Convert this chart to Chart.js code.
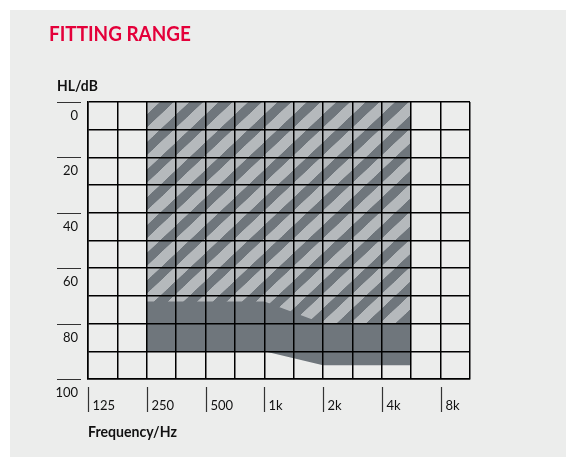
<!DOCTYPE html>
<html>
<head>
<meta charset="utf-8">
<script src="https://cdn.jsdelivr.net/npm/chart.js@4"></script>
<style>
  html, body { margin: 0; padding: 0; background: #fff; }
  #wrap { width: 566px; height: 457px; position: relative; }
</style>
</head>
<body>
<div id="wrap"><canvas id="rangeChart" width="566" height="457"></canvas></div>
<script>
// fitting range data (Hz / dB HL)
var freqs = [250, 1000, 2000, 5657];
var maxLoss = [90, 90, 95, 95];        // solid grey area, lower edge
var hatchLoss = [72, 72, 80, 80];      // hatched area, lower edge
var yTicks = [0, 20, 40, 60, 80, 100];
var xTickFreqs = [125, 250, 500, 1000, 2000, 4000, 8000];
var xTickLabels = ['125', '250', '500', '1k', '2k', '4k', '8k'];

var DARK = '#6f767c';
var LIGHT = '#b5b9bc';
var PANEL = '#ecedec';

function makeHatch() {
    var c = document.createElement('canvas');
    c.width = 100; c.height = 100;
    var g = c.getContext('2d');
    g.fillStyle = DARK;
    g.fillRect(0, 0, 100, 100);
    g.fillStyle = LIGHT;
    var s1 = 92, s2 = 145;
    for (var k = -300; k <= 300; k += 100) {
        g.beginPath();
        g.moveTo(k + s1 + 50, -50);
        g.lineTo(k + s2 + 50, -50);
        g.lineTo(k + s2 - 150, 150);
        g.lineTo(k + s1 - 150, 150);
        g.closePath();
        g.fill();
    }
    return g.createPattern(c, 'repeat');
}
var hatch = makeHatch();

function pts(ys) {
    return freqs.map(function(f, i) { return {x: f, y: ys[i]}; });
}

// text squeezed a bit to get closer to the narrow original face
function narrowText(ctx, txt, x, y, sx) {
    ctx.save();
    ctx.translate(x, y);
    ctx.scale(sx, 1);
    ctx.fillText(txt, 0, 0);
    ctx.restore();
}

var decor = {
    id: 'decor',
    beforeDraw: function(chart) {
        var ctx = chart.ctx;
        ctx.save();
        ctx.fillStyle = '#fff';
        ctx.fillRect(0, 0, chart.width, chart.height);
        ctx.fillStyle = PANEL;
        ctx.fillRect(10, 10, chart.width - 10, chart.height - 10);
        ctx.restore();
    },
    beforeDatasetsDraw: function(chart) {
        var x = chart.scales.x, y = chart.scales.y, a = chart.chartArea;
        var cw = (x.getPixelForValue(250) - x.getPixelForValue(125)) / 2;
        var ch = y.getPixelForValue(10) - y.getPixelForValue(0);
        hatch.setTransform(new DOMMatrix().translate(a.left, a.top).scale(cw / 100, ch / 100));
    },
    afterDraw: function(chart) {
        var ctx = chart.ctx, x = chart.scales.x, y = chart.scales.y, a = chart.chartArea;
        ctx.save();
        ctx.fillStyle = '#e4003a';
        ctx.font = 'bold 21px Lato';
        ctx.textBaseline = 'alphabetic';
        ctx.textAlign = 'left';
        narrowText(ctx, 'FITTING RANGE', 49, 41, 0.9);

        ctx.fillStyle = '#111';
        ctx.font = 'bold 15px Lato';
        narrowText(ctx, 'HL/dB', 57, 91, 0.93);
        narrowText(ctx, 'Frequency/Hz', 88, 437, 0.94);

        // y ticks: short rule with the label underneath
        ctx.strokeStyle = '#333';
        ctx.lineWidth = 1;
        ctx.font = '13px Lato';
        ctx.textAlign = 'right';
        ctx.textBaseline = 'middle';
        yTicks.forEach(function(v) {
            var py = Math.round(y.getPixelForValue(v)) + 0.5;
            ctx.beginPath();
            ctx.moveTo(57, py);
            ctx.lineTo(81, py);
            ctx.stroke();
            ctx.fillText(String(v), 78, py + 13);
        });

        // x ticks: mark below the grid with the label to its right
        ctx.textAlign = 'left';
        ctx.textBaseline = 'alphabetic';
        ctx.lineWidth = 1.2;
        xTickFreqs.forEach(function(f, i) {
            var px = Math.round(x.getPixelForValue(f)) + 0.5;
            ctx.beginPath();
            ctx.moveTo(px, a.bottom + 8);
            ctx.lineTo(px, a.bottom + 33);
            ctx.stroke();
            ctx.fillText(xTickLabels[i], px + 4, a.bottom + 31);
        });
        ctx.restore();
    }
};

var ctx1 = document.getElementById('rangeChart').getContext('2d');
var rangeChart = new Chart(ctx1, {
    type: 'line',
    data: {
        datasets: [{
            label: 'hatched',
            data: pts(hatchLoss),
            backgroundColor: hatch,
            borderWidth: 0,
            pointRadius: 0,
            fill: {value: 0},
            order: 1
        }, {
            label: 'range',
            data: pts(maxLoss),
            backgroundColor: DARK,
            borderWidth: 0,
            pointRadius: 0,
            fill: {value: 0},
            order: 2
        }]
    },
    options: {
        responsive: false,
        animation: false,
        devicePixelRatio: 1,
        layout: {
            padding: {left: 88, top: 102, right: 96, bottom: 78}
        },
        plugins: {
            legend: {display: false},
            title: {display: false},
            tooltip: {enabled: false}
        },
        scales: {
            x: {
                type: 'logarithmic',
                min: 125,
                max: 125 * Math.pow(2, 6.5),
                afterBuildTicks: function(scale) {
                    var t = [];
                    for (var k = 0; k <= 13; k++) t.push({value: 125 * Math.pow(2, k / 2)});
                    scale.ticks = t;
                },
                ticks: {display: false},
                grid: {color: '#000', lineWidth: 1.5, drawTicks: false, z: 1},
                border: {color: '#000', width: 1.5, z: 1}
            },
            y: {
                type: 'linear',
                reverse: true,
                min: 0,
                max: 100,
                ticks: {display: false, stepSize: 10},
                grid: {color: '#000', lineWidth: 1.5, drawTicks: false, z: 1},
                border: {color: '#000', width: 1.5, z: 1}
            }
        }
    },
    plugins: [decor]
});
</script>
</body>
</html>
